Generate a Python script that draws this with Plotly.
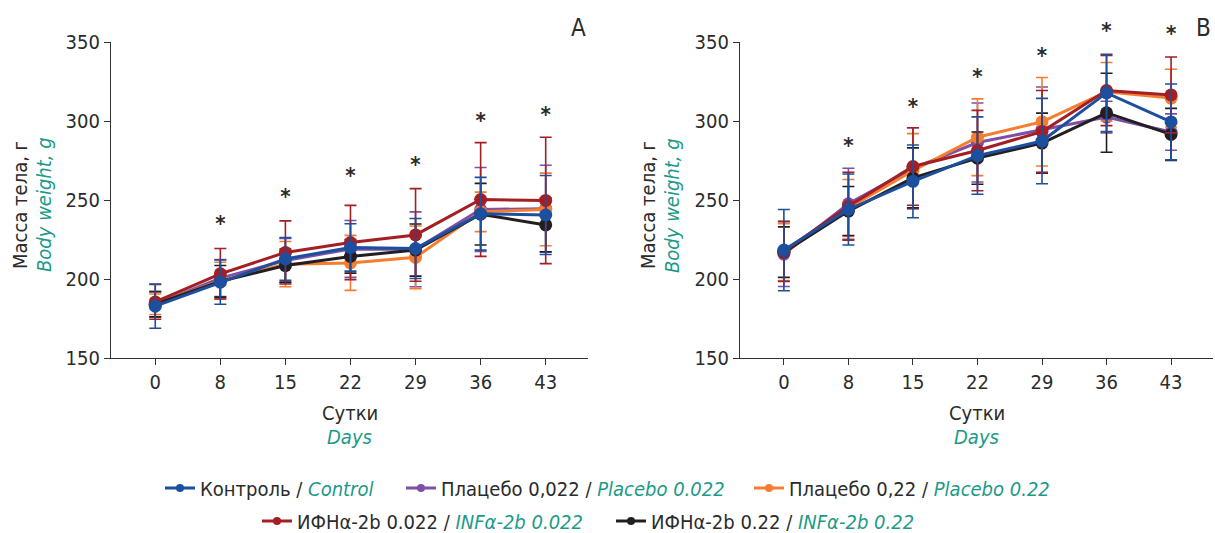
import plotly.graph_objects as go

days = ["0", "8", "15", "22", "29", "36", "43"]
y_ticks = [150, 200, 250, 300, 350]

# Panel A (means and SD)
control_A = [182.8, 198.0, 212.7, 220.0, 219.3, 241.3, 240.5]
control_A_sd = [14.0, 14.0, 13.5, 15.0, 19.0, 23.0, 25.0]
plac022_A = [184.0, 200.6, 211.7, 219.0, 218.8, 244.0, 244.5]
plac022_A_sd = [8.0, 11.7, 14.0, 18.0, 23.7, 26.6, 27.5]
plac22_A = [184.0, 199.0, 209.4, 210.2, 213.7, 242.5, 244.0]
plac22_A_sd = [6.5, 11.6, 14.3, 17.4, 19.8, 12.5, 23.0]
inf022_A = [185.5, 203.3, 216.8, 223.1, 227.9, 250.3, 249.7]
inf022_A_sd = [11.0, 16.0, 20.0, 23.5, 29.3, 36.0, 40.0]
inf22_A = [184.0, 198.5, 208.5, 214.3, 218.3, 241.0, 234.2]
inf22_A_sd = [8.0, 10.0, 10.5, 10.6, 16.5, 19.5, 17.0]
star_days_A = ["8", "15", "22", "29", "36", "43"]
stars_A = [234, 251, 264, 271, 299, 303]

# Panel B (means and SD)
control_B = [218.3, 244.0, 261.8, 278.1, 287.3, 317.8, 299.4]
control_B_sd = [25.7, 22.5, 23.0, 24.5, 27.0, 24.4, 24.0]
plac022_B = [215.8, 247.6, 270.0, 286.4, 294.5, 302.5, 293.0]
plac022_B_sd = [20.5, 22.5, 25.7, 25.0, 27.0, 10.0, 11.5]
plac22_B = [217.0, 245.0, 268.5, 289.7, 299.5, 318.5, 314.5]
plac22_B_sd = [18.0, 18.0, 23.5, 24.3, 28.0, 18.5, 18.3]
inf022_B = [217.5, 246.1, 271.2, 281.3, 293.3, 319.3, 316.5]
inf022_B_sd = [19.0, 21.5, 24.5, 25.4, 26.0, 22.2, 24.0]
inf22_B = [217.0, 243.0, 264.0, 276.5, 286.0, 305.2, 291.5]
inf22_B_sd = [16.0, 15.5, 19.0, 16.5, 19.0, 25.0, 16.5]
star_days_B = ["8", "15", "22", "29", "36", "43"]
stars_B = [283, 308, 327, 340, 356, 354]

TEAL = "#1c9a87"
FONT = "Liberation Sans Narrow, DejaVu Sans Condensed, Noto Sans, sans-serif"
TXT = "#2b2b2b"
W, H = 1215, 533

groups = [
    # name_ru, name_en, color, legend id, legend text-start px, legend row centre px
    ("Плацебо 0,022", "Placebo 0.022", "#7d50a6", "legend2", 441, 488, plac022_A, plac022_A_sd, plac022_B, plac022_B_sd),
    ("Плацебо 0,22", "Placebo 0.22", "#f47d2f", "legend3", 789, 488, plac22_A, plac22_A_sd, plac22_B, plac22_B_sd),
    ("ИФНα-2b 0.22", "INFα-2b 0.22", "#231f20", "legend5", 651, 521, inf22_A, inf22_A_sd, inf22_B, inf22_B_sd),
    ("ИФНα-2b 0.022", "INFα-2b 0.022", "#a31f24", "legend4", 297, 521, inf022_A, inf022_A_sd, inf022_B, inf022_B_sd),
    ("Контроль", "Control", "#1d4f9f", "legend", 200, 488, control_A, control_A_sd, control_B, control_B_sd),
]

fig = go.Figure()
legend_layout = {}
for ru, en, col, leg, tx, ty, yA, sA, yB, sB in groups:
    for xa, ya, yv, sv in (("x", "y", yA, sA), ("x2", "y2", yB, sB)):
        fig.add_trace(go.Scatter(
            x=days, y=yv, xaxis=xa, yaxis=ya, mode="lines+markers",
            line=dict(color=col, width=3),
            marker=dict(color=col, size=13),
            error_y=dict(type="data", array=sv, visible=True, color=col, thickness=1.6, width=6),
            showlegend=False, cliponaxis=False,
        ))
    fig.add_trace(go.Scatter(
        x=[None], y=[None], xaxis="x", yaxis="y", mode="lines+markers",
        line=dict(color=col, width=3), marker=dict(color=col, size=8),
        name=f"{ru} / <i><span style='color:{TEAL}'>{en}</span></i>",
        legend=leg, showlegend=True,
    ))
    legend_layout[leg] = dict(orientation="h", x=(tx - 40) / W, xanchor="left",
                              y=(H - ty) / H, yanchor="middle", bgcolor="rgba(0,0,0,0)",
                              font=dict(family=FONT, size=20, color=TXT), itemwidth=30)

axis_common = dict(
    showline=True, linecolor="#333", linewidth=1.3, ticks="outside", ticklen=6,
    tickcolor="#333", tickwidth=1.3, showgrid=False, zeroline=False,
    tickfont=dict(family=FONT, size=20, color=TXT),
)
xdomA = [111 / W, 588 / W]
xdomB = [740 / W, 1213 / W]
ydom = [(H - 358) / H, (H - 42) / H]
# hidden axes with the same value-per-pixel scale, extended to the top of the figure,
# so that the asterisks above 350 g can be drawn
ydom_ext = [ydom[0], 1.0]
yrange_ext = [150, 150 + 200 * (ydom_ext[1] - ydom_ext[0]) / (ydom[1] - ydom[0])]

# significance asterisks
for xa, ya, sx, sy in (("x", "y3", star_days_A, stars_A), ("x2", "y4", star_days_B, stars_B)):
    fig.add_trace(go.Scatter(
        x=sx, y=sy, xaxis=xa, yaxis=ya, mode="text", text=["<b>*</b>"] * len(sx),
        textposition="middle center", textfont=dict(family=FONT, size=22, color=TXT),
        showlegend=False, cliponaxis=False, hoverinfo="skip",
    ))

hidden = dict(visible=False, showgrid=False, zeroline=False, domain=ydom_ext, range=yrange_ext)

fig.update_layout(
    width=W, height=H, margin=dict(l=0, r=0, t=0, b=0, autoexpand=False),
    paper_bgcolor="white", plot_bgcolor="rgba(0,0,0,0)",
    font=dict(family=FONT, color=TXT),
    xaxis=dict(domain=xdomA, type="category", range=[-0.68, 6.65], anchor="y", **axis_common),
    yaxis=dict(domain=ydom, range=[150, 350], tickvals=y_ticks, anchor="x", **axis_common),
    xaxis2=dict(domain=xdomB, type="category", range=[-0.68, 6.65], anchor="y2", **axis_common),
    yaxis2=dict(domain=ydom, range=[150, 350], tickvals=y_ticks, anchor="x2", **axis_common),
    yaxis3=dict(anchor="x", **hidden),
    yaxis4=dict(anchor="x2", **hidden),
    **legend_layout,
)


def paper_text(xpx, ypx, text, size=20, color=TXT, angle=0):
    return dict(x=xpx / W, y=(H - ypx) / H, xref="paper", yref="paper", text=text,
                xanchor="center", yanchor="middle", textangle=angle, showarrow=False,
                font=dict(family=FONT, size=size, color=color))


ann = []
for dom in (xdomA, xdomB):
    cx = (dom[0] + dom[1]) / 2 * W
    ann.append(paper_text(cx, 413, "Сутки"))
    ann.append(paper_text(cx, 437, "<i>Days</i>", color=TEAL))
for xpx in (20, 648):
    ann.append(paper_text(xpx, 205, "Масса тела, г", angle=-90))
    ann.append(paper_text(xpx + 24, 205, "<i>Body weight, g</i>", color=TEAL, angle=-90))
ann.append(paper_text(578, 28, "A", size=24))
ann.append(paper_text(1203, 28, "B", size=24))
fig.update_layout(annotations=ann)

fig.write_html("out.html", config={"displayModeBar": False},
               post_script="document.body.style.margin='0px';")
